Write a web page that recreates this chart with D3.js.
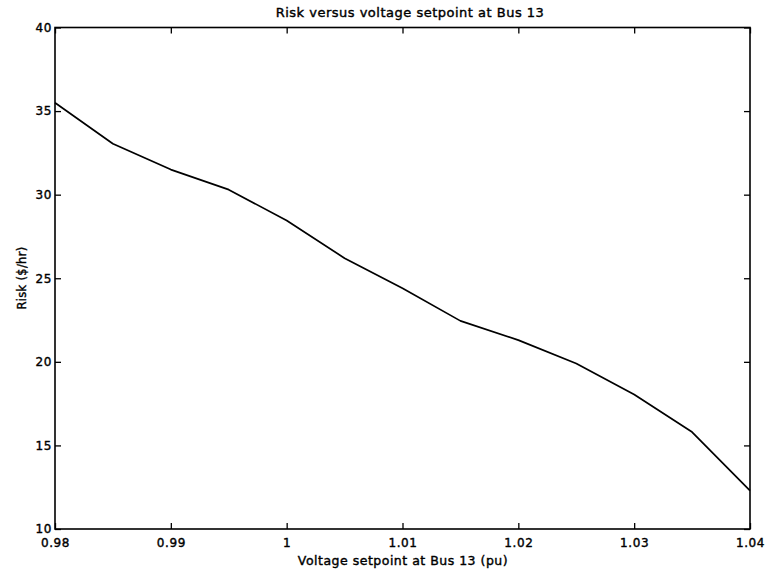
<!DOCTYPE html>
<html>
<head>
<meta charset="utf-8">
<script src="https://cdn.jsdelivr.net/npm/d3@7"></script>
<style>
  html, body { margin: 0; padding: 0; background: #fff; }
  svg { display: block; }
  text { font-family: "DejaVu Sans", "Liberation Sans", Arial, sans-serif; fill: #000;
         stroke: #000; stroke-width: 0.4px; }
</style>
</head>
<body>
<svg id="chart" width="765" height="572"></svg>
<script>
// Bus 13 voltage setpoint (pu) and the corresponding risk ($/hr)
const setpoints = [0.980, 0.985, 0.990, 0.995, 1.000, 1.005, 1.010, 1.015, 1.020, 1.025, 1.030, 1.035, 1.040];
const risk      = [35.5, 33.05, 31.5, 30.3, 28.45, 26.2, 24.4, 22.45, 21.3, 19.9, 18.05, 15.8, 12.3];

const xTicks = [0.98, 0.99, 1.00, 1.01, 1.02, 1.03, 1.04];
const xTickLabels = ["0.98", "0.99", "1", "1.01", "1.02", "1.03", "1.04"];
const yTicks = [10, 15, 20, 25, 30, 35, 40];

const titleText = "Risk versus voltage setpoint at Bus 13";
const xLabelText = "Voltage setpoint at Bus 13 (pu)";
const yLabelText = "Risk ($/hr)";

const svg = d3.select("#chart");
const plot = { left: 55, right: 750, top: 27.5, bottom: 529 };

const x = d3.scaleLinear().domain([0.98, 1.04]).range([plot.left, plot.right]);
const y = d3.scaleLinear().domain([10, 40]).range([plot.bottom, plot.top]);

const tickLen = 6;

// Axes with inward ticks on all four sides of the box
const bottomAxis = d3.axisBottom(x).tickValues(xTicks)
  .tickFormat((d, i) => xTickLabels[i]).tickSizeInner(-tickLen).tickSizeOuter(0).tickPadding(9.5);
const topAxis = d3.axisTop(x).tickValues(xTicks).tickFormat("").tickSizeInner(-tickLen).tickSizeOuter(0);
const leftAxis = d3.axisLeft(y).tickValues(yTicks).tickFormat(d3.format("d"))
  .tickSizeInner(-tickLen).tickSizeOuter(0).tickPadding(3);
const rightAxis = d3.axisRight(y).tickValues(yTicks).tickFormat("").tickSizeInner(-tickLen).tickSizeOuter(0);

function styleAxis(g) {
  g.select(".domain").remove();
  g.selectAll(".tick line").attr("stroke", "#000").attr("stroke-width", 1.3);
  g.selectAll(".tick text").attr("font-size", 12).attr("letter-spacing", 0.6)
    .style("font-family", "\"DejaVu Sans\", sans-serif")
    .attr("stroke", "#000").attr("stroke-width", 0.4);
}

svg.append("g").attr("transform", `translate(0,${plot.bottom})`).call(bottomAxis).call(styleAxis)
  .selectAll(".tick text").attr("dy", "0.72em");
svg.append("g").attr("transform", `translate(0,${plot.top})`).call(topAxis).call(styleAxis);
svg.append("g").attr("transform", `translate(${plot.left},0)`).call(leftAxis).call(styleAxis);
svg.append("g").attr("transform", `translate(${plot.right},0)`).call(rightAxis).call(styleAxis);

// Frame
svg.append("rect")
  .attr("x", plot.left).attr("y", plot.top)
  .attr("width", plot.right - plot.left).attr("height", plot.bottom - plot.top)
  .attr("fill", "none").attr("stroke", "#000").attr("stroke-width", 1.6);

// Risk curve
const line = d3.line().x((d, i) => x(setpoints[i])).y(d => y(d));
svg.append("path")
  .datum(risk)
  .attr("d", line)
  .attr("fill", "none")
  .attr("stroke", "#000")
  .attr("stroke-width", 1.7)
  .attr("stroke-linejoin", "round");

// Title and axis labels
svg.append("text")
  .attr("x", 410).attr("y", 16.5)
  .attr("text-anchor", "middle").attr("font-size", 13).attr("letter-spacing", 0.5)
  .text(titleText);

svg.append("text")
  .attr("x", 403).attr("y", 565)
  .attr("text-anchor", "middle").attr("font-size", 12.5).attr("letter-spacing", 0.5)
  .text(xLabelText);

svg.append("text")
  .attr("transform", `translate(26,278) rotate(-90)`)
  .attr("text-anchor", "middle").attr("font-size", 11.5).attr("letter-spacing", 0.3)
  .text(yLabelText);
</script>
</body>
</html>
